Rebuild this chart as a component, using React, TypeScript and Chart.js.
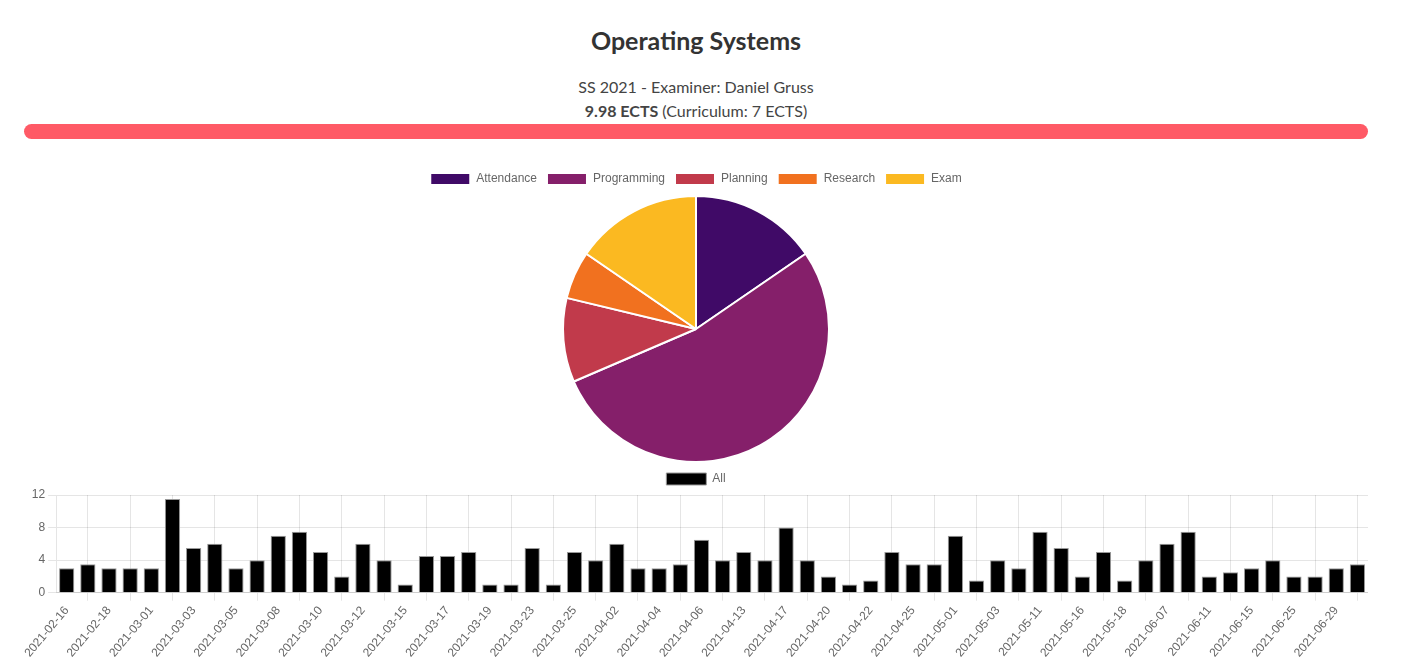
import React, { useEffect, useRef } from "react";
import { Chart, registerables } from "chart.js";

Chart.register(...registerables);

const categories = ["Attendance", "Programming", "Planning", "Research", "Exam"];
const categoryHours = [38.5, 132.5, 25.5, 14.5, 38.5];
const categoryColors = ["#400a67", "#851f6a", "#c13a4b", "#f1711f", "#fbb921"];

const dates = [
  "2021-02-16", "2021-02-17", "2021-02-18", "2021-02-22", "2021-03-01", "2021-03-02",
  "2021-03-03", "2021-03-04", "2021-03-05", "2021-03-07", "2021-03-08", "2021-03-09",
  "2021-03-10", "2021-03-11", "2021-03-12", "2021-03-14", "2021-03-15", "2021-03-16",
  "2021-03-17", "2021-03-18", "2021-03-19", "2021-03-22", "2021-03-23", "2021-03-24",
  "2021-03-25", "2021-03-26", "2021-04-02", "2021-04-03", "2021-04-04", "2021-04-05",
  "2021-04-06", "2021-04-12", "2021-04-13", "2021-04-15", "2021-04-17", "2021-04-19",
  "2021-04-20", "2021-04-21", "2021-04-22", "2021-04-24", "2021-04-25", "2021-04-30",
  "2021-05-01", "2021-05-02", "2021-05-03", "2021-05-10", "2021-05-11", "2021-05-15",
  "2021-05-16", "2021-05-17", "2021-05-18", "2021-06-06", "2021-06-07", "2021-06-08",
  "2021-06-11", "2021-06-14", "2021-06-15", "2021-06-24", "2021-06-25", "2021-06-28",
  "2021-06-29", "2021-06-30",
];
const hoursAll = [
  3, 3.5, 3, 3, 3, 11.5, 5.5, 6, 3, 4, 7, 7.5, 5, 2, 6, 4, 1, 4.5, 4.5, 5, 1,
  1, 5.5, 1, 5, 4, 6, 3, 3, 3.5, 6.5, 4, 5, 4, 8, 4, 2, 1, 1.5, 5, 3.5, 3.5,
  7, 1.5, 4, 3, 7.5, 5.5, 2, 5, 1.5, 4, 6, 7.5, 2, 2.5, 3, 4, 2, 2, 3, 3.5,
];
const yTicks = { min: 0, max: 12, step: 4 };

const uiFont = "Lato, 'Open Sans', sans-serif";

export default function App() {
  const pieRef = useRef<HTMLCanvasElement>(null);
  const barRef = useRef<HTMLCanvasElement>(null);

  useEffect(() => {
    Chart.defaults.font.family = "'Liberation Sans', Arial, sans-serif";
    Chart.defaults.color = "#666";
    const pie = new Chart(pieRef.current!, {
      type: "pie",
      data: {
        labels: categories,
        datasets: [
          {
            data: categoryHours,
            backgroundColor: categoryColors,
            borderColor: "#fff",
            borderWidth: 2,
          },
        ],
      },
      options: {
        animation: false,
        responsive: true,
        maintainAspectRatio: false,
        plugins: {
          legend: { position: "top", labels: { boxWidth: 40, font: { size: 12 } } },
          tooltip: { enabled: false },
        },
      },
    });
    const bar = new Chart(barRef.current!, {
      type: "bar",
      data: {
        labels: dates,
        datasets: [
          {
            label: "All",
            data: hoursAll,
            backgroundColor: "#000",
            borderColor: "#999",
            borderWidth: 1,
          },
        ],
      },
      options: {
        animation: false,
        responsive: true,
        maintainAspectRatio: false,
        plugins: {
          legend: { position: "top", labels: { boxWidth: 40 } },
          tooltip: { enabled: false },
        },
        scales: {
          x: { grid: { color: "rgba(0,0,0,0.1)" } },
          y: {
            min: yTicks.min,
            max: yTicks.max,
            ticks: { stepSize: yTicks.step },
            grid: { color: "rgba(0,0,0,0.1)" },
          },
        },
      },
    });
    return () => {
      pie.destroy();
      bar.destroy();
    };
  }, []);

  return (
    <div style={{ position: "relative", width: 1388, height: 664, fontFamily: uiFont }}>
      <div
        style={{
          position: "absolute",
          left: 16,
          width: 1344,
          top: 16,
          textAlign: "center",
          fontSize: 25,
          lineHeight: "32px",
          fontWeight: 700,
          color: "#333",
        }}
      >
        Operating Systems
      </div>
      <div
        style={{
          position: "absolute",
          left: 16,
          width: 1344,
          top: 67,
          textAlign: "center",
          fontSize: 16,
          lineHeight: "24px",
          color: "#444",
        }}
      >
        <div>SS 2021 - Examiner: Daniel Gruss</div>
        <div>
          <b>9.98 ECTS</b> (Curriculum: 7 ECTS)
        </div>
      </div>
      <div
        style={{
          position: "absolute",
          left: 16,
          width: 1344,
          top: 116,
          height: 15,
          borderRadius: 8,
          background: "#ff5a66",
        }}
      />
      <div style={{ position: "absolute", left: 16, width: 1344, top: 155, height: 300 }}>
        <canvas ref={pieRef} />
      </div>
      <div style={{ position: "absolute", left: 16, width: 1344, top: 455, height: 200 }}>
        <canvas ref={barRef} />
      </div>
    </div>
  );
}
